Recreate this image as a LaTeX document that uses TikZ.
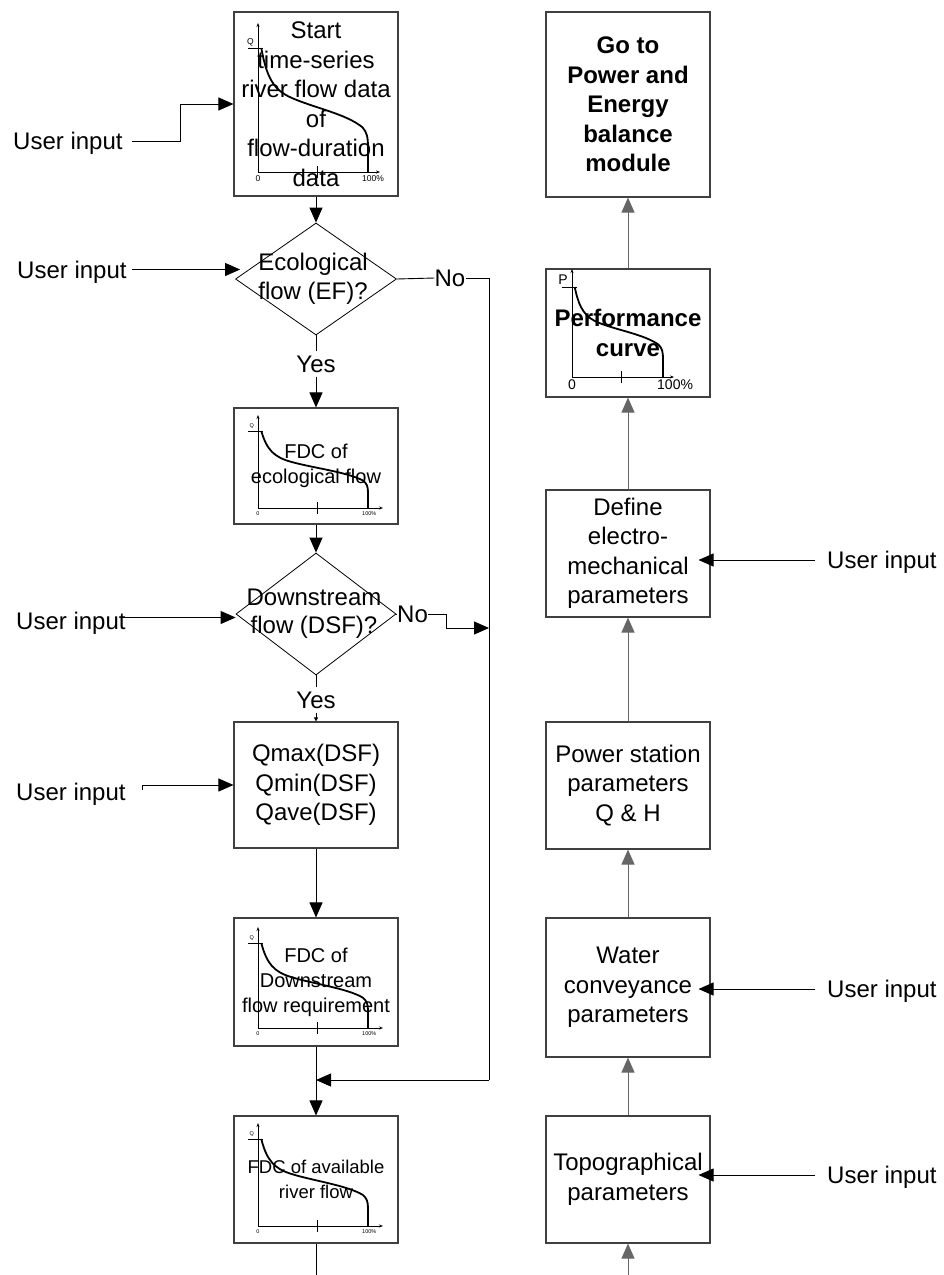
\documentclass[tikz,border=0pt]{standalone}
\usepackage{fontspec}
\setmainfont{Liberation Sans}
\usetikzlibrary{shapes.geometric,arrows.meta,calc}

\tikzset{
 box/.style={draw=black!75, line width=1.1pt, inner sep=0pt, align=center, font=\fontsize{24}{29.5}\selectfont, minimum width=164pt},
 boldbox/.style={box, font=\fontsize{24}{29.5}\selectfont\bfseries},
 dia/.style={draw=black, line width=0.8pt, diamond, inner sep=0pt},
 diatext/.style={align=center, inner sep=0pt, font=\fontsize{24}{29}\selectfont},
 lbl/.style={inner sep=0pt, text height=17pt, text depth=0pt, font=\fontsize{24}{29.5}\selectfont},
 yes/.style={lbl, inner sep=4pt},
 arr/.style={draw=black, line width=0.9pt, -{Triangle[length=15pt,width=13pt]}},
 arrS/.style={draw=black, line width=0.9pt, -{Triangle[length=4pt,width=4pt]}},
 ln/.style={draw=black, line width=0.9pt},
 arrR/.style={draw=black!60, line width=1pt, -{Triangle[length=15pt,width=13pt]}},
 chax/.style={draw=black, line width=0.6pt},
 fdcline/.style={draw=black, line width=1.8pt},
 chlab/.style={inner sep=0pt},
}

% #1 name, #2 W, #3 H, #4 ytop, #5 xlen, #6 font size, #7 letter
\newcommand{\fdcchart}[7]{%
 \draw[chax,-{Stealth[length=4pt,width=3pt]}] (0,0) -- (0,-#4);
 \draw[chax,-{Stealth[length=4pt,width=3pt]}] (0,0) -- (#5,0);
 \draw[chax] (-10,-#3) -- (5,-#3);
 \draw[chax] (0.54*#2,-6) -- (0.54*#2,6);
 \draw[fdcline] (0.03*#2,-#3) .. controls (0.08*#2,-0.75*#3) and (0.15*#2,-0.66*#3) .. (0.3*#2,-0.6*#3)
   .. controls (0.5*#2,-0.52*#3) and (0.8*#2,-0.47*#3) .. (0.95*#2,-0.36*#3)
   .. controls (0.99*#2,-0.32*#3) and (#2,-0.28*#3) .. (#2,-0.2*#3) -- (#2,0);
 \node[chlab,anchor=south east,font=\fontsize{#6}{#6}\selectfont] (#1q) at (-4,-#3-2) {#7};
 \node[chlab,anchor=north,font=\fontsize{#6}{#6}\selectfont] (#1z) at (0,3) {0};
 \node[chlab,anchor=north west,font=\fontsize{#6}{#6}\selectfont] (#1h) at (#2-6,3) {100\%};
}

\begin{document}
\begin{tikzpicture}[x=1pt,y=-1pt]
\useasboundingbox (0,0) rectangle (943,1275);

% ---------- left column ----------
\node[box, minimum height=184pt] (b1) at (316,104) {Start\\time-series\\river flow data\\of\\flow-duration\\data};
\node[dia, minimum width=161pt, minimum height=112pt] (d1) at (316,279) {};
\node[diatext] (d1t) at (313,279) {Ecological\\flow (EF)?};
\node[yes] (yes1) at (316,364) {Yes};
\node[box, minimum height=116pt, font=\fontsize{20}{25}\selectfont] (f1) at (316,466) {FDC of\\ecological flow};
\node[dia, minimum width=160pt, minimum height=122pt] (d2) at (316,614) {};
\node[diatext, font=\fontsize{24}{28}\selectfont] (d2t) at (314,614) {Downstream\\flow (DSF)?};
\node[yes] (yes2) at (316,700) {Yes};
\node[box, minimum height=126pt] (qm) at (316,785) {Qmax(DSF)\\Qmin(DSF)\\Qave(DSF)};
\node[box, minimum height=128pt, font=\fontsize{20}{25}\selectfont] (f2) at (316,982) {FDC of\\Downstream\\flow requirement};
\node[box, minimum height=127pt, font=\fontsize{18.5}{25}\selectfont] (f3) at (316,1179.5) {FDC of available\\river flow};

\node[lbl] (no1) at (450,278) {No};
\node[lbl, anchor=west] (no2) at (397,614) {No};

\node[lbl, anchor=west] (ui1) at (13,141) {User input};
\node[lbl, anchor=west] (ui2) at (17,269.5) {User input};
\node[lbl, anchor=west] (ui3) at (16,620.5) {User input};
\node[lbl, anchor=west] (ui4) at (16,792) {User input};

% charts
\begin{scope}[shift={(258,172)}]
 \fdcchart{cA}{110}{124}{149}{122}{8.5}{Q}
\end{scope}
\begin{scope}[shift={(258,508)}]
 \fdcchart{cB}{110}{77}{93}{125}{5.5}{Q}
\end{scope}
\begin{scope}[shift={(258,1028)}]
 \fdcchart{cC}{110}{85}{101}{125}{5.5}{Q}
\end{scope}
\begin{scope}[shift={(258,1226)}]
 \fdcchart{cD}{110}{87}{103}{125}{5.5}{Q}
\end{scope}

% ---------- right column ----------
\node[boldbox, minimum height=185pt] (go) at (628,104.5) {Go to\\Power and\\Energy\\balance\\module};
\node[boldbox, minimum height=128pt] (perf) at (628,333) {Performance\\curve};
\node[box, minimum height=127pt] (def) at (628,553.5) {Define\\electro-\\mechanical\\parameters};
\node[box, minimum height=127pt] (pow) at (628,785.5) {Power station\\parameters\\Q \& H};
\node[box, minimum height=139pt] (wat) at (628,987.5) {Water\\conveyance\\parameters};
\node[box, minimum height=127pt] (topo) at (628,1179.5) {Topographical\\parameters};

\begin{scope}[shift={(572,377)}]
 \fdcchart{cE}{91}{90}{108}{102}{14}{P}
\end{scope}

\node[lbl, anchor=west] (uiR1) at (827,560) {User input};
\node[lbl, anchor=west] (uiR2) at (827,989) {User input};
\node[lbl, anchor=west] (uiR3) at (827,1175) {User input};

% coordinates
\coordinate (botL) at (316,1275);
\coordinate (botR) at (628,1275);
\coordinate (mergeR) at (489,1080);
\coordinate (j2) at (489,628);
\coordinate (c4) at (142,790);

% ---------- connectors left ----------
\draw[arr] (b1.south) -- (d1.north);
\draw[ln] (d1.south) -- (yes1.north);
\draw[arr] (yes1.south) -- (f1.north);
\draw[arr] (f1.south) -- (d2.north);
\draw[ln] (d1.east) -- (no1.west);
\draw[ln] (no1.east) -| (mergeR);
\draw[arr] (mergeR) -- (mergeR -| f2.south);
\draw[arr] (f2.south) -- (f3.north);
\draw[ln] (f3.south) -- (botL);
\draw[ln] (d2.east) -- (no2.west);
\draw[arr] (no2.east) -- ++(18,0) |- (j2);
\draw[ln] (d2.south) -- (yes2.north);
\draw[arrS] (yes2.south) -- (qm.north);
\draw[arr] (qm.south) -- (f2.north);

\draw[arr] ([xshift=9pt]ui1.east) -- ++(49,0) |- (b1.west);
\draw[arr] ([xshift=5pt]ui2.east) -- ([xshift=5pt]ui2.east -| d1.west);
\draw[arr] ([xshift=-4pt,yshift=3pt]ui3.east) -- ([yshift=3pt]ui3.east -| d2.west);
\draw[arr] (c4) |- (qm.west);

% ---------- connectors right ----------
\draw[arrR] (perf.north) -- (go.south);
\draw[arrR] (def.north) -- (perf.south);
\draw[arrR] (pow.north) -- (def.south);
\draw[arrR] (wat.north) -- (pow.south);
\draw[arrR] (topo.north) -- (wat.south);
\draw[arrR] (botR) -- (topo.south);

\draw[arr] ([xshift=-12pt]uiR1.west) -- ([xshift=-12pt]uiR1.west -| def.east);
\draw[arr] ([xshift=-12pt]uiR2.west) -- ([xshift=-12pt]uiR2.west -| wat.east);
\draw[arr] ([xshift=-12pt]uiR3.west) -- ([xshift=-12pt]uiR3.west -| topo.east);
\end{tikzpicture}
\end{document}
